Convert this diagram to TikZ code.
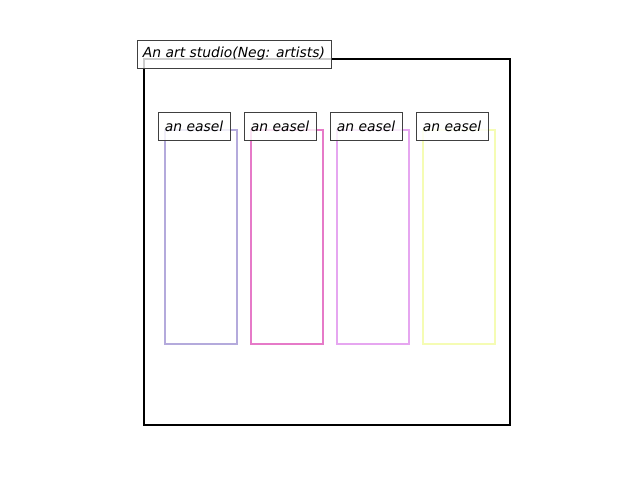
\documentclass[tikz,border=0pt]{standalone}
\usepackage{fontspec}
\setmainfont{DejaVu Sans}
\definecolor{easelA}{HTML}{B4AADC}
\definecolor{easelB}{HTML}{E67AC8}
\definecolor{easelC}{HTML}{E6A6F0}
\definecolor{easelD}{HTML}{F5FCB4}
\definecolor{tagline}{HTML}{404040}
\tikzset{
  studiobox/.style={draw=black, line width=2pt, minimum width=366pt, minimum height=366pt, inner sep=0pt},
  easelbox/.style={draw=#1, line width=2pt, minimum width=72pt, minimum height=214pt, inner sep=0pt},
  tag/.style={draw=tagline, line width=1pt, fill=white, fill opacity=0.8, text opacity=1,
    font=\fontsize{13.9}{16}\selectfont\itshape, minimum height=28pt, inner sep=0pt}
}
\begin{document}
\begin{tikzpicture}[x=1pt, y=-1pt]
  \useasboundingbox (0,0) rectangle (640,480);

  \node[studiobox] (studio) at (327,242) {};

  \foreach \x/\c in {1/easelA, 2/easelB, 3/easelC, 4/easelD} {
    \node[easelbox=\c] (easel-\x) at (115+86*\x,237) {};
  }

  \foreach \x in {1, 2, 3, 4} {
    \node[tag, minimum width=72pt] (tag-\x) at (108+86*\x,126) {an easel};
  }

  \node[tag, minimum width=194pt] (studio-tag) at (234,54) {An art studio(Neg: artists)};
\end{tikzpicture}
\end{document}
